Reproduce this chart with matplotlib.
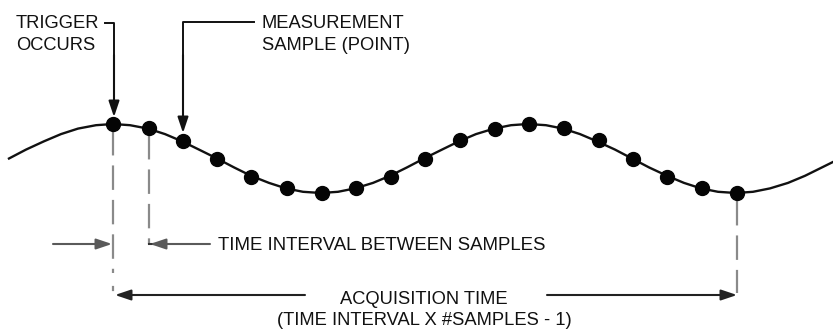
import matplotlib
matplotlib.use("Agg")
import matplotlib.pyplot as plt

# ─────────────────────────────────────────────
# Data (pixel units, y grows downward)
# ─────────────────────────────────────────────

sample_x = [113, 149, 183, 217, 251, 287, 322, 356, 391, 425,
            460, 495, 529, 564, 599, 633, 667, 702, 737]
sample_y = [124, 128, 141, 159, 177, 188, 193, 188, 177, 159,
            140, 129, 124, 128, 140, 159, 177, 188, 193]

curve_x = [9, 26, 44, 61, 78, 96, 113, 130, 148, 165, 182, 199, 217,
           234, 251, 269, 286, 303, 321, 338, 355, 373, 390, 407, 424,
           442, 459, 476, 494, 511, 528, 546, 563, 580, 597, 615, 632,
           649, 667, 684, 701, 718, 736, 753, 770, 788, 805, 822, 840]
curve_y = [158.5, 149.6, 141.3, 134.1, 128.6, 125.2, 124.0, 125.2, 128.6,
           134.1, 141.3, 149.6, 158.5, 167.4, 175.8, 182.9, 188.4, 191.8,
           193.0, 191.8, 188.4, 182.9, 175.8, 167.4, 158.5, 149.6, 141.3,
           134.1, 128.6, 125.2, 124.0, 125.2, 128.6, 134.1, 141.3, 149.6,
           158.5, 167.4, 175.8, 182.9, 188.4, 191.8, 193.0, 191.8, 188.4,
           182.9, 175.8, 167.4, 158.5]

trigger_label = ["TRIGGER", "OCCURS"]
sample_label = ["MEASUREMENT", "SAMPLE (POINT)"]
interval_label = "TIME INTERVAL BETWEEN SAMPLES"
acq_label = ["ACQUISITION TIME", "(TIME INTERVAL X #SAMPLES - 1)"]

# ─────────────────────────────────────────────
# Styling
# ─────────────────────────────────────────────

plt.rcParams["font.family"] = ["Liberation Sans", "DejaVu Sans"]
TXT = "#111111"
DASH = "#8a8a8a"
FS = 13.2
HEAD = "-|>,head_length=0.95,head_width=0.32"

fig = plt.figure(figsize=(8.33, 3.31), dpi=100)
ax = fig.add_axes([0, 0, 1, 1])
ax.set_xlim(0, 833)
ax.set_ylim(331, 0)
ax.axis("off")


def arrow(tail, tip, color="#111111", lw=1.5):
    ax.annotate("", xy=tip, xytext=tail,
                arrowprops=dict(arrowstyle=HEAD, color=color, lw=lw,
                                shrinkA=0, shrinkB=0, mutation_scale=10))


# waveform + samples
ax.plot(curve_x, curve_y, color="#111111", lw=1.7, zorder=3)
ax.plot(sample_x, sample_y, "o", color="#050505", ms=10, zorder=4)

# dashed guides dropping from first, second and last sample
dash_kw = dict(color=DASH, lw=1.6, dashes=(11, 4.5), zorder=2)
ax.plot([sample_x[0], sample_x[0]], [131, 273], **dash_kw)
ax.plot([sample_x[0], sample_x[0]], [287, 290], color=DASH, lw=1.6)
ax.plot([sample_x[1], sample_x[1]], [135, 244], **dash_kw)
ax.plot([sample_x[-1], sample_x[-1]], [201, 293], **dash_kw)

# trigger callout
ax.plot([105, 114, 114], [23, 23, 60], color="#111111", lw=1.4)
arrow((114, 55), (114, 117))
for i, s in enumerate(trigger_label):
    ax.text(16, 24 + 22 * i, s, fontsize=FS, color=TXT, va="center", ha="left")

# measurement sample callout
ax.plot([254, 183, 183], [22, 22, 60], color="#111111", lw=1.4)
arrow((183, 55), (183, 133))
for i, s in enumerate(sample_label):
    ax.text(262, 24 + 22 * i, s, fontsize=FS, color=TXT, va="center", ha="left")

# time interval between samples
arrow((53, 244), (112, 244), color="#5a5a5a")
ax.plot([149, 156], [244, 244], color="#333333", lw=1.5)
arrow((210, 244), (150, 244), color="#5a5a5a")
ax.text(218, 245, interval_label, fontsize=FS + 0.2, color=TXT, va="center", ha="left")

# acquisition time
arrow((305, 295), (115, 295), color="#222222")
arrow((547, 295), (737, 295), color="#222222")
for i, s in enumerate(acq_label):
    ax.text(424, 300 + 20.5 * i, s, fontsize=FS, color=TXT, va="center", ha="center")

fig.savefig("out.png", dpi=100)
